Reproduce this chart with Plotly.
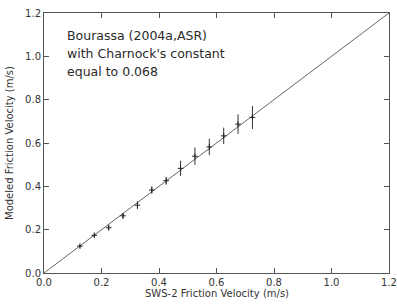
import plotly.graph_objects as go

sws2_ustar = [0.125, 0.175, 0.225, 0.275, 0.325, 0.375, 0.425, 0.475, 0.525, 0.575, 0.625, 0.675, 0.725]
modeled_ustar = [0.124, 0.174, 0.209, 0.264, 0.313, 0.383, 0.426, 0.483, 0.539, 0.582, 0.633, 0.687, 0.718]
modeled_err = [0.006, 0.008, 0.012, 0.013, 0.018, 0.017, 0.018, 0.035, 0.040, 0.038, 0.038, 0.045, 0.053]
one_to_one = [0.0, 1.2]
tick_vals = [0.0, 0.2, 0.4, 0.6, 0.8, 1.0, 1.2]
tick_text = ["0.0", "0.2", "0.4", "0.6", "0.8", "1.0", "1.2"]
note_lines = ["Bourassa (2004a,ASR)", "with Charnock's constant", "equal to 0.068"]
note_y = [1.097, 1.014, 0.931]

fig = go.Figure()
fig.add_trace(go.Scatter(x=one_to_one, y=one_to_one, mode="lines",
                         line=dict(color="#666666", width=1), showlegend=False, hoverinfo="skip"))
fig.add_trace(go.Scatter(
    x=sws2_ustar, y=modeled_ustar, mode="markers",
    marker=dict(symbol="cross-thin", size=4, line=dict(color="#222222", width=1), color="#222222"),
    error_y=dict(type="data", array=modeled_err, visible=True, color="#333333", thickness=1, width=0),
    showlegend=False))

axis_common = dict(range=[0, 1.2], tickvals=tick_vals, ticktext=tick_text, ticks="inside",
                   ticklen=5, tickcolor="#555555", showline=True, linecolor="#555555", linewidth=1,
                   mirror="ticks", showgrid=False, zeroline=False, automargin=False,
                   tickfont=dict(family="DejaVu Sans", size=10, color="#333333"))

title_font = dict(family="DejaVu Sans", size=10, color="#333333")
annotations = [
    dict(x=0.5, y=0, xref="paper", yref="paper", xanchor="center", yanchor="middle",
         yshift=-20, showarrow=False, text="SWS-2 Friction Velocity (m/s)", font=title_font),
    dict(x=0, y=0.5, xref="paper", yref="paper", xanchor="center", yanchor="middle",
         xshift=-35, textangle=-90, showarrow=False, text="Modeled Friction Velocity (m/s)",
         font=title_font),
]
for line, yv in zip(note_lines, note_y):
    annotations.append(dict(x=0.072, y=yv, xref="x", yref="y", xanchor="left", yanchor="middle",
                            showarrow=False, text=line,
                            font=dict(family="DejaVu Sans", size=12.5, color="#2a2a2a")))

fig.update_layout(
    width=397, height=305,
    margin=dict(l=44, r=8, t=13, b=32),
    paper_bgcolor="white", plot_bgcolor="white",
    xaxis=axis_common, yaxis=axis_common,
    annotations=annotations,
)

fig.write_html("out.html", config={"displayModeBar": False},
               post_script="document.body.style.margin='0px';")
